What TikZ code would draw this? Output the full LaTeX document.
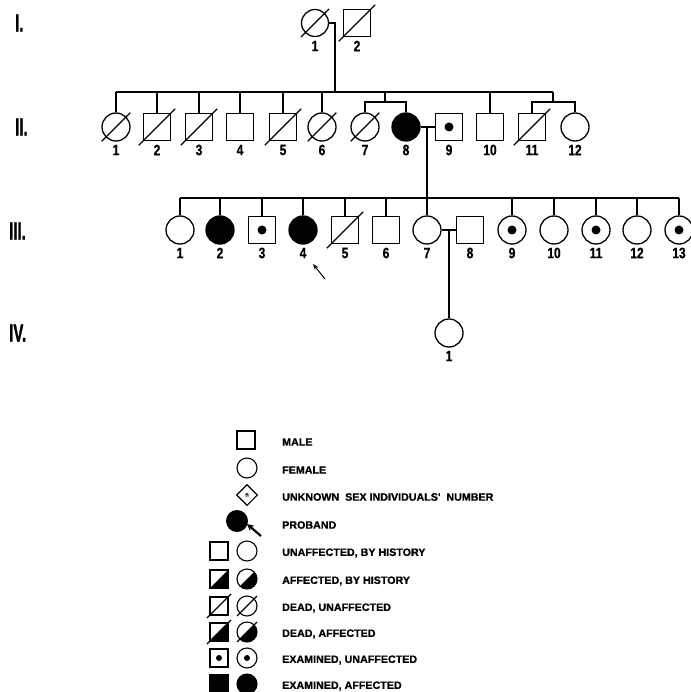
\documentclass[tikz,border=0pt]{standalone}
\usepackage{fontspec}
\setmainfont{Liberation Sans}
\newfontfamily\numfont[FakeStretch=0.8,FakeBold=0.6]{Liberation Sans Bold}
\newfontfamily\genfont[FakeStretch=0.6,FakeBold=1]{Liberation Sans Bold}
\newfontfamily\legfont[FakeBold=0.9]{Liberation Sans Bold}
\usetikzlibrary{calc,arrows.meta,shapes.geometric}
\tikzset{
  ind/.style={draw, line width=1.3pt, inner sep=0pt, fill=white},
  male/.style={ind, rectangle, minimum size=27pt},
  female/.style={ind, circle, minimum size=28pt},
  lmale/.style={ind, rectangle, minimum size=18pt, line width=1.1pt},
  lfemale/.style={ind, circle, minimum size=20pt, line width=1.1pt},
  aff/.style={fill=black},
  halfaff/.style={path picture={\fill[black] (path picture bounding box.south west) -- (path picture bounding box.north east) -- (path picture bounding box.south east) -- cycle;}},
  lbl/.style={font=\numfont\fontsize{15}{15}\selectfont, inner sep=0pt},
  gen/.style={font=\genfont\fontsize{25}{25}\selectfont, anchor=west, inner sep=0pt},
  leg/.style={font=\legfont\fontsize{10.7}{10.7}\selectfont, anchor=west, inner sep=0pt},
  ln/.style={line width=1.1pt},
}
\newcommand\pers[5]{\node[#4] (#1) at (#2,#3) {}; \node[lbl] (#1l) at (#2,#3+23) {#5};}
\newcommand\deadmark[2][4]{\draw[ln] ($(#2.south west)+(-#1,#1)$) -- ($(#2.north east)+(#1,-#1)$);}
\newcommand\exdot[2][4.5]{\fill (#2) circle (#1);}
\begin{document}
\begin{tikzpicture}[x=1pt,y=-1pt]
\useasboundingbox (0,0) rectangle (690,692);
% generation labels
\node[gen] (gI) at (15,23) {I.};
\node[gen] (gII) at (15,127) {II.};
\node[gen] (gIII) at (9,231) {III.};
\node[gen] (gIV) at (9,333) {IV.};
% generation I
\pers{I1}{315}{23}{female,minimum size=27pt}{1}
\pers{I2}{357}{23}{male}{2}
\deadmark{I1}\deadmark{I2}
\coordinate (m1) at (335,23);
% generation II
\pers{II1}{116}{127}{female}{1}
\pers{II2}{157}{127}{male}{2}
\pers{II3}{199}{127}{male}{3}
\pers{II4}{240}{127}{male}{4}
\pers{II5}{283}{127}{male}{5}
\pers{II6}{322}{127}{female}{6}
\pers{II7}{365}{127}{female}{7}
\pers{II8}{406}{127}{female,aff}{8}
\pers{II9}{449}{127}{male}{9}
\pers{II10}{490}{127}{male}{10}
\pers{II11}{532}{127}{male}{11}
\pers{II12}{575}{127}{female}{12}
\deadmark{II1}\deadmark{II2}\deadmark{II3}\deadmark{II5}\deadmark{II6}\deadmark{II7}\deadmark{II11}
\exdot{II9}
\coordinate (s2L) at (116,92);
\coordinate (s2R) at (553,92);
\coordinate (t78) at (385,102);
\coordinate (t1112) at (553,102);
\coordinate (m2) at (427,127);
% generation III
\pers{III1}{180}{230}{female}{1}
\pers{III2}{220}{230}{female,aff}{2}
\pers{III3}{262}{230}{male}{3}
\pers{III4}{303}{230}{female,aff}{4}
\pers{III5}{345}{230}{male}{5}
\pers{III6}{386}{230}{male}{6}
\pers{III7}{427}{230}{female}{7}
\pers{III8}{470}{230}{male}{8}
\pers{III9}{512}{230}{female}{9}
\pers{III10}{554}{230}{female}{10}
\pers{III11}{596}{230}{female}{11}
\pers{III12}{637}{230}{female}{12}
\pers{III13}{679}{230}{female}{13}
\deadmark{III5}
\exdot{III3}\exdot{III9}\exdot{III11}\exdot{III13}
\coordinate (s3L) at (180,198);
\coordinate (s3R) at (679,198);
\coordinate (m3) at (449,230);
\coordinate (arT) at (325,279);
\coordinate (arH) at (313,264);
% generation IV
\pers{IV1}{449}{333}{female}{1}
% connectors
\draw[ln] (I1.east) -- (m1) -- (m1 |- s2L);
\draw[ln] (s2L) -- (s2R);
\foreach \n in {II1,II2,II3,II4,II5,II6,II10} {\draw[ln] (\n.north) -- (\n.north |- s2L);}
\draw[ln] (t78 |- s2L) -- (t78);
\draw[ln] (II7.north) |- (t78);
\draw[ln] (II8.north) |- (t78);
\draw[ln] (s2R) -- (t1112);
\draw[ln] (II11.north) |- (t1112);
\draw[ln] (II12.north) |- (t1112);
\draw[ln] (II8.east) -- (II9.west);
\draw[ln] (m2) -- (m2 |- s3L);
\draw[ln] (s3L) -- (s3R);
\foreach \n in {III1,III2,III3,III4,III5,III6,III7,III9,III10,III11,III12,III13} {\draw[ln] (\n.north) -- (\n.north |- s3L);}
\draw[ln] (III7.east) -- (III8.west);
\draw[ln] (m3) -- (IV1.north);
\draw[line width=1pt,-{Stealth[length=6pt,width=4.5pt]}] (arT) -- (arH);
% legend
\node[lmale] (L1) at (246,440) {};
\node[leg] (T1) at (282,442) {MALE};
\node[lfemale] (L2) at (247,468) {};
\node[leg] (T2) at (282,470) {FEMALE};
\node[draw, line width=1.1pt, diamond, aspect=1, minimum size=21pt, inner sep=0pt, font=\legfont\fontsize{6}{6}\selectfont] (L3) at (247,495) {n};
\node[leg] (T3) at (282,497) {UNKNOWN\ \ SEX\ INDIVIDUALS'\ \ NUMBER};
\node[circle, fill=black, minimum size=22pt, inner sep=0pt] (L4) at (237,521) {};
\coordinate (L4t) at (261,536);
\coordinate (L4h) at (247,524);
\draw[line width=2.2pt,-{Stealth[length=7pt,width=7pt]}] (L4t) -- (L4h);
\node[leg] (T4) at (282,525) {PROBAND};
\node[lmale] (L5a) at (219,551) {};
\node[lfemale] (L5b) at (247,551) {};
\node[leg] (T5) at (282,553) {UNAFFECTED, BY HISTORY};
\node[lmale,halfaff] (L6a) at (219,579) {};
\node[lfemale,halfaff] (L6b) at (247,579) {};
\node[leg] (T6) at (282,581) {AFFECTED, BY HISTORY};
\node[lmale] (L7a) at (219,606) {};
\node[lfemale] (L7b) at (247,606) {};
\deadmark[2.5]{L7a}\deadmark[2.5]{L7b}
\node[leg] (T7) at (282,608) {DEAD, UNAFFECTED};
\node[lmale,halfaff] (L8a) at (219,632) {};
\node[lfemale,halfaff] (L8b) at (247,632) {};
\deadmark[2.5]{L8a}\deadmark[2.5]{L8b}
\node[leg] (T8) at (282,634) {DEAD, AFFECTED};
\node[lmale] (L9a) at (219,658) {};
\node[lfemale] (L9b) at (247,658) {};
\exdot[3]{L9a}\exdot[3]{L9b}
\node[leg] (T9) at (282,660) {EXAMINED, UNAFFECTED};
\node[lmale,aff] (L10a) at (219,684) {};
\node[lfemale,aff] (L10b) at (247,684) {};
\node[leg] (T10) at (282,686) {EXAMINED, AFFECTED};
\end{tikzpicture}
\end{document}
